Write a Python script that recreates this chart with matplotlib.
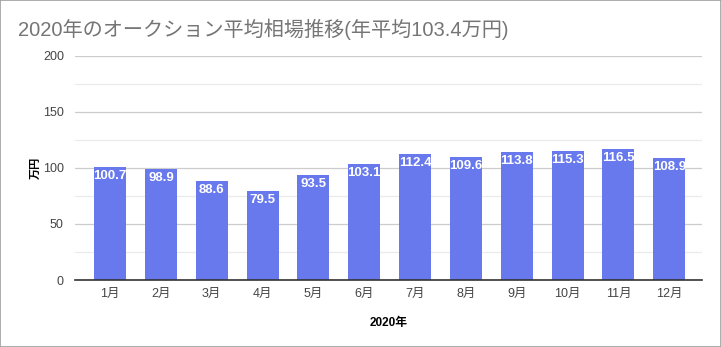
import matplotlib
matplotlib.use("Agg")
import matplotlib.pyplot as plt
from matplotlib.patches import Rectangle

plt.rcParams['font.family'] = ['Liberation Sans', 'Noto Sans CJK JP', 'DejaVu Sans']

months = ['1月', '2月', '3月', '4月', '5月', '6月', '7月', '8月', '9月', '10月', '11月', '12月']
values = [100.7, 98.9, 88.6, 79.5, 93.5, 103.1, 112.4, 109.6, 113.8, 115.3, 116.5, 108.9]
title = '2020年のオークション平均相場推移(年平均103.4万円)'
yticks = [0, 50, 100, 150, 200]

fig = plt.figure(figsize=(7.21, 3.47), dpi=100)
fig.patches.append(Rectangle((0, 0), 1, 1, transform=fig.transFigure, fill=False,
                             edgecolor='#9e9e9e', linewidth=1.2))
ax = fig.add_axes([0.104, 0.193, 0.870, 0.646])

x = list(range(len(months)))
ax.bar(x, values, width=0.63, color='#6779ec', zorder=3)
for xi, v in zip(x, values):
    ax.text(xi, v - 2.5, f'{v}', ha='center', va='top', color='white',
            fontsize=9.5, fontweight='bold', zorder=4)

ax.set_ylim(0, 200)
ax.set_xlim(-0.69, 11.65)
ax.set_yticks(yticks)
ax.set_yticks([25, 75, 125, 175], minor=True)
ax.grid(axis='y', which='major', color='#cccccc', linewidth=0.9, zorder=0)
ax.grid(axis='y', which='minor', color='#ebebeb', linewidth=0.9, zorder=0)
ax.set_xticks(x)
ax.set_xticklabels(months)
ax.tick_params(axis='both', which='both', length=0, labelsize=9, labelcolor='#444444')
ax.tick_params(axis='y', pad=8)
ax.tick_params(axis='x', pad=6)
for s in ['top', 'right', 'left']:
    ax.spines[s].set_visible(False)
ax.spines['bottom'].set_color('#333333')
ax.spines['bottom'].set_linewidth(1.2)
ax.spines['bottom'].set_zorder(5)

ax.set_ylabel('万円', fontsize=8, fontweight='bold')
ax.yaxis.set_label_coords(-0.055, 0.5)
ax.set_xlabel('2020年', fontsize=8.5, fontweight='bold')
ax.xaxis.set_label_coords(0.5, -0.165)

fig.text(0.025, 0.915, title, fontsize=14.5, color='#757575', ha='left', va='center')

fig.savefig('out.png', dpi=100)
